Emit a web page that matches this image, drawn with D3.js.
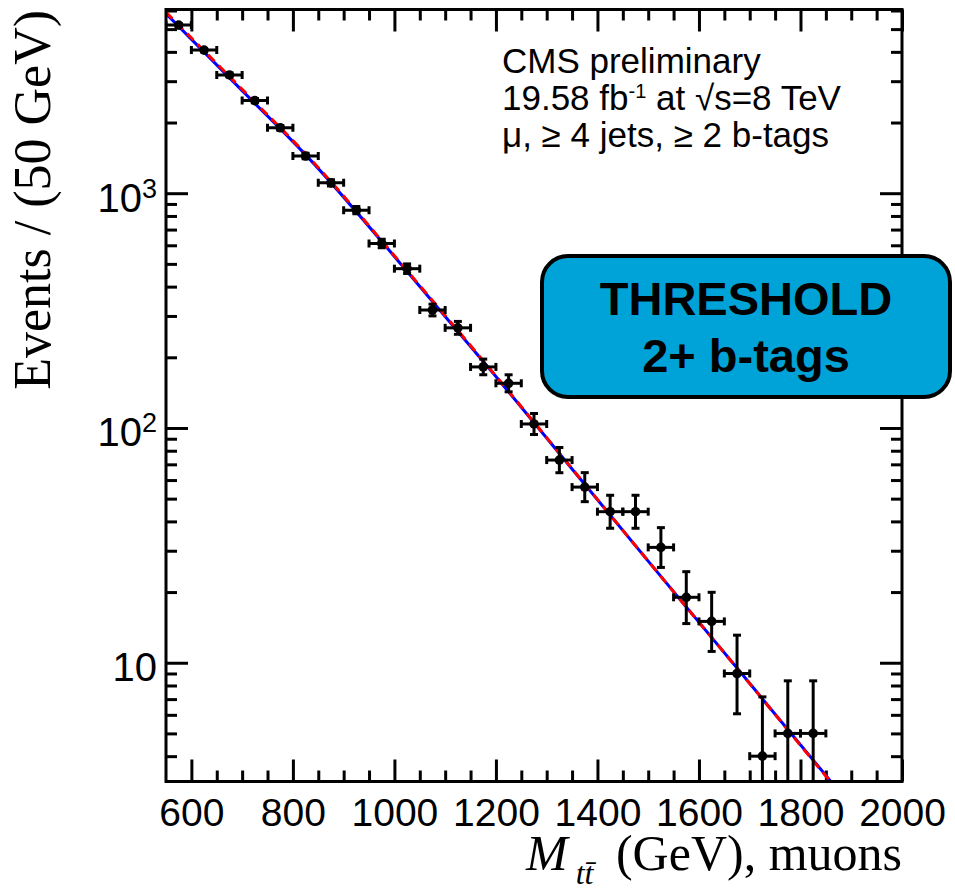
<!DOCTYPE html>
<html>
<head>
<meta charset="utf-8">
<script src="https://cdn.jsdelivr.net/npm/d3@7"></script>
<style>
  body { margin: 0; background: #fff; }
  svg { display: block; }
</style>
</head>
<body>
<div class="chart"></div>
<script>
// ttbar invariant mass, muon channel, >= 2 b-tags (counts per 50 GeV bin)
var massBins = [575, 625, 675, 725, 775, 825, 875, 925, 975, 1025, 1075, 1125, 1175,
                1225, 1275, 1325, 1375, 1425, 1475, 1525, 1575, 1625, 1675, 1725, 1775, 1825];
var events = [5200, 4070, 3190, 2480, 1900, 1440, 1107, 847, 611, 477, 318, 267, 182,
              155, 104, 73, 56, 44, 44, 31, 19, 15, 9, 4, 5, 5];

// fit curves
var fitMass = [550, 700, 827, 1040, 1200, 1352, 1500, 1679, 1861, 1880];
var fitBlue = [5820, 2735, 1442, 425, 165.6, 66.1, 27.1, 9.27, 3.10, 2.77];
var fitRed  = [5900, 2770, 1455, 428, 166.5, 66.3, 27.1, 9.25, 3.08, 2.75];

var xTickLabels = [600, 800, 1000, 1200, 1400, 1600, 1800, 2000];
var yTickLabels = [10, 100, 1000];
var binHalfWidth = 25;

var sans = '"Liberation Sans", Arial, Helvetica, sans-serif';
var serif = '"Liberation Serif", "Times New Roman", Times, serif';

var width = 955, height = 891;
var plot = { left: 166, right: 902, top: 9.5, bottom: 781.5 };

var svg = d3.select('.chart')
  .append('svg')
    .attr('width', width)
    .attr('height', height);

var x = d3.scaleLinear()
  .domain([550, 2000])
  .range([plot.left, plot.right]);

var y = d3.scaleLog()
  .domain([3.12, 6060])
  .range([plot.bottom, plot.top]);

// Garwood (68%) Poisson intervals, Wilson-Hilferty approximation
function poissonUp(n) {
  var k = 2 * n + 2, a = 2 / (9 * k);
  return 0.5 * k * Math.pow(1 - a + Math.sqrt(a), 3) - n;
}
function poissonDown(n) {
  if (n === 0) return 0;
  var k = 2 * n, a = 2 / (9 * k);
  return n - 0.5 * k * Math.pow(1 - a - Math.sqrt(a), 3);
}

svg.append('clipPath')
    .attr('id', 'plotclip')
  .append('rect')
    .attr('x', plot.left)
    .attr('y', plot.top)
    .attr('width', plot.right - plot.left)
    .attr('height', plot.bottom - plot.top);

// ---- axes ----
var xMinor = d3.range(600, 2000, 50).filter(function(d) { return d % 200 !== 0; });
var yMinor = y.ticks().filter(function(d) { return yTickLabels.indexOf(d) < 0; });

function styleAxis(g) {
  g.select('.domain').remove();
  g.attr('stroke-width', 3).attr('font-family', sans);
}

svg.append('g')
    .attr('transform', `translate(0, ${plot.bottom})`)
    .call(d3.axisBottom(x).tickValues(xTickLabels).tickSize(-22).tickSizeOuter(0)
      .tickPadding(17).tickFormat(d3.format('d')))
    .call(styleAxis)
    .attr('font-size', 39);
svg.append('g')
    .attr('transform', `translate(0, ${plot.bottom})`)
    .call(d3.axisBottom(x).tickValues(xMinor).tickSize(-11).tickSizeOuter(0).tickFormat(''))
    .call(styleAxis);
svg.append('g')
    .attr('transform', `translate(0, ${plot.top})`)
    .call(d3.axisTop(x).tickValues(xTickLabels).tickSize(-22).tickSizeOuter(0).tickFormat(''))
    .call(styleAxis);
svg.append('g')
    .attr('transform', `translate(0, ${plot.top})`)
    .call(d3.axisTop(x).tickValues(xMinor).tickSize(-11).tickSizeOuter(0).tickFormat(''))
    .call(styleAxis);

var yAxisG = svg.append('g')
    .attr('transform', `translate(${plot.left}, 0)`)
    .call(d3.axisLeft(y).tickValues(yTickLabels).tickSize(-22).tickSizeOuter(0)
      .tickPadding(9).tickFormat(''))
    .call(styleAxis)
    .attr('font-size', 40);
yAxisG.selectAll('.tick text')
    .attr('dy', '0.45em')
    .each(function(d) {
      var t = d3.select(this);
      var exp = Math.round(Math.log10(d));
      t.append('tspan').text('10');
      if (exp > 1) {
        t.append('tspan').attr('dy', -14).attr('font-size', 27).text(exp);
      }
    });
svg.append('g')
    .attr('transform', `translate(${plot.left}, 0)`)
    .call(d3.axisLeft(y).tickValues(yMinor).tickSize(-11).tickSizeOuter(0).tickFormat(''))
    .call(styleAxis);
svg.append('g')
    .attr('transform', `translate(${plot.right}, 0)`)
    .call(d3.axisRight(y).tickValues(yTickLabels).tickSize(-22).tickSizeOuter(0).tickFormat(''))
    .call(styleAxis);
svg.append('g')
    .attr('transform', `translate(${plot.right}, 0)`)
    .call(d3.axisRight(y).tickValues(yMinor).tickSize(-11).tickSizeOuter(0).tickFormat(''))
    .call(styleAxis);

// ---- fit curves ----
var fitLine = d3.line()
  .x(function(d) { return x(d[0]); })
  .y(function(d) { return y(d[1]); })
  .curve(d3.curveMonotoneX);

var curves = svg.append('g').attr('clip-path', 'url(#plotclip)');
curves.append('path')
    .attr('d', fitLine(d3.zip(fitMass, fitBlue)))
    .attr('fill', 'none')
    .attr('stroke', '#0000ff')
    .attr('stroke-width', 3);
curves.append('path')
    .attr('d', fitLine(d3.zip(fitMass, fitRed)))
    .attr('fill', 'none')
    .attr('stroke', '#ff0000')
    .attr('stroke-width', 3)
    .attr('stroke-dasharray', '9,6');

// ---- data points ----
var points = svg.append('g')
    .attr('clip-path', 'url(#plotclip)')
    .attr('stroke', '#000')
    .attr('stroke-width', 3)
  .selectAll('g')
  .data(d3.zip(massBins, events))
  .enter().append('g');

var cap = 4;
points.append('line')
    .attr('x1', function(d) { return x(d[0]); })
    .attr('x2', function(d) { return x(d[0]); })
    .attr('y1', function(d) { return y(d[1] - poissonDown(d[1])); })
    .attr('y2', function(d) { return y(d[1] + poissonUp(d[1])); });
points.append('line')
    .attr('x1', function(d) { return x(d[0]) - cap; })
    .attr('x2', function(d) { return x(d[0]) + cap; })
    .attr('y1', function(d) { return y(d[1] + poissonUp(d[1])); })
    .attr('y2', function(d) { return y(d[1] + poissonUp(d[1])); });
points.append('line')
    .attr('x1', function(d) { return x(d[0]) - cap; })
    .attr('x2', function(d) { return x(d[0]) + cap; })
    .attr('y1', function(d) { return y(d[1] - poissonDown(d[1])); })
    .attr('y2', function(d) { return y(d[1] - poissonDown(d[1])); });
points.append('line')
    .attr('x1', function(d) { return x(d[0] - binHalfWidth); })
    .attr('x2', function(d) { return x(d[0] + binHalfWidth); })
    .attr('y1', function(d) { return y(d[1]); })
    .attr('y2', function(d) { return y(d[1]); });
points.append('line')
    .attr('x1', function(d) { return x(d[0] - binHalfWidth); })
    .attr('x2', function(d) { return x(d[0] - binHalfWidth); })
    .attr('y1', function(d) { return y(d[1]) - cap; })
    .attr('y2', function(d) { return y(d[1]) + cap; });
points.append('line')
    .attr('x1', function(d) { return x(d[0] + binHalfWidth); })
    .attr('x2', function(d) { return x(d[0] + binHalfWidth); })
    .attr('y1', function(d) { return y(d[1]) - cap; })
    .attr('y2', function(d) { return y(d[1]) + cap; });
points.append('circle')
    .attr('cx', function(d) { return x(d[0]); })
    .attr('cy', function(d) { return y(d[1]); })
    .attr('r', 4.8)
    .attr('fill', '#000')
    .attr('stroke', 'none');

// frame
svg.append('rect')
    .attr('x', plot.left)
    .attr('y', plot.top)
    .attr('width', plot.right - plot.left)
    .attr('height', plot.bottom - plot.top)
    .attr('fill', 'none')
    .attr('stroke', '#000')
    .attr('stroke-width', 3);

// ---- labels ----
svg.append('text')
    .attr('transform', 'translate(50, 10) rotate(-90)')
    .attr('text-anchor', 'end')
    .attr('font-family', serif)
    .attr('font-size', 52)
    .text('Events / (50 GeV)');

var xTitle = svg.append('text')
    .attr('x', plot.right)
    .attr('y', 870)
    .attr('text-anchor', 'end')
    .attr('font-family', serif)
    .attr('font-size', 50);
xTitle.append('tspan').attr('font-style', 'italic').text('M');
xTitle.append('tspan').attr('font-style', 'italic').attr('font-size', 32)
    .attr('dx', 8).attr('dy', 14).text('tt\u0304');
xTitle.append('tspan').attr('dx', 10).attr('dy', -14).text(' (GeV), muons');

var info = svg.append('g')
    .attr('font-family', sans)
    .attr('font-size', 35);
info.append('text').attr('x', 502).attr('y', 73).text('CMS preliminary');
var lumi = info.append('text').attr('x', 502).attr('y', 110);
lumi.append('tspan').text('19.58 fb');
lumi.append('tspan').attr('dy', -12).attr('font-size', 20).text('-1');
lumi.append('tspan').attr('dy', 12).text(' at \u221As=8 TeV');
info.append('text').attr('x', 502).attr('y', 147).text('\u03bc, \u2265 4 jets, \u2265 2 b-tags');

// threshold badge
var badge = svg.append('g');
badge.append('rect')
    .attr('x', 542)
    .attr('y', 256)
    .attr('width', 408)
    .attr('height', 141)
    .attr('rx', 26)
    .attr('fill', '#00a3d7')
    .attr('stroke', '#000')
    .attr('stroke-width', 4);
badge.append('text')
    .attr('x', 746)
    .attr('y', 315)
    .attr('text-anchor', 'middle')
    .attr('font-family', sans)
    .attr('font-weight', 'bold')
    .attr('font-size', 47)
    .text('THRESHOLD');
badge.append('text')
    .attr('x', 746)
    .attr('y', 372)
    .attr('text-anchor', 'middle')
    .attr('font-family', sans)
    .attr('font-weight', 'bold')
    .attr('font-size', 47)
    .text('2+ b-tags');
</script>
</body>
</html>
